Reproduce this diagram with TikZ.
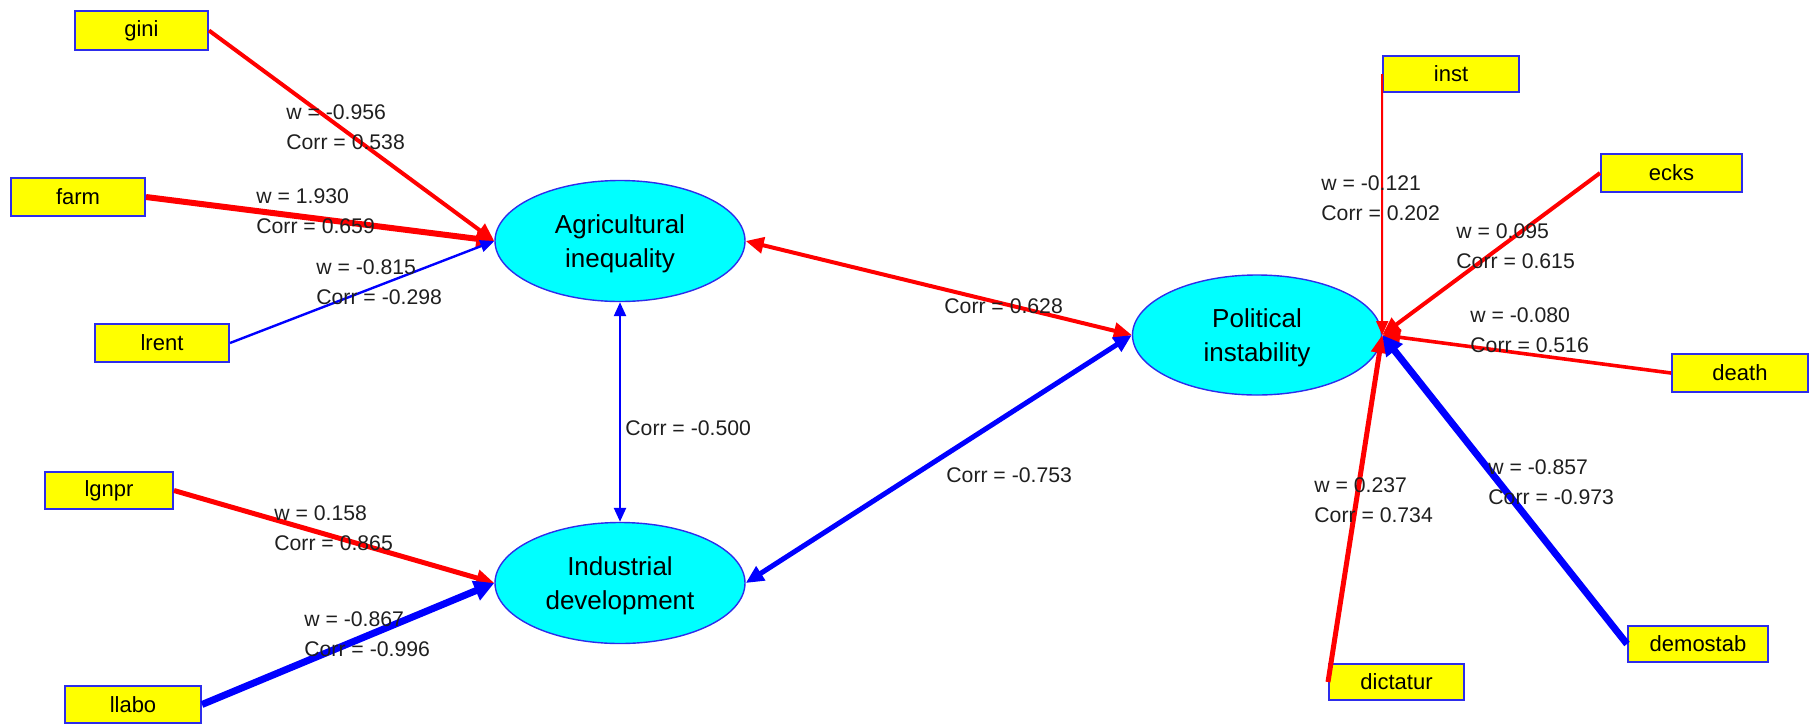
\documentclass[tikz,border=0pt]{standalone}
\usepackage{fontspec}
\setmainfont{Liberation Sans}
\usetikzlibrary{arrows.meta,shapes.geometric}
\definecolor{posred}{RGB}{255,0,0}
\definecolor{negblue}{RGB}{0,0,255}
\definecolor{mvyellow}{RGB}{255,255,0}
\definecolor{lvcyan}{RGB}{0,255,255}
\definecolor{rimblue}{RGB}{45,45,235}
\begin{document}
\begin{tikzpicture}[x=0.5pt,y=-0.5pt,
  indicator/.style={draw=rimblue, line width=1pt, fill=mvyellow, minimum width=67pt,
    minimum height=19pt, inner sep=0pt, font=\fontsize{11}{13}\selectfont},
  latent/.style={ellipse, draw=rimblue, line width=0.7pt, fill=lvcyan, minimum width=125pt,
    minimum height=60.5pt, inner sep=0pt, align=center, text depth=0pt,
    font=\fontsize{13}{17}\selectfont},
  wlabel/.style={anchor=west, align=left, inner sep=0pt, text=black!88,
    font=\fontsize{10.6}{15}\selectfont},
  tolatent/.style={-{Triangle[length=9pt,width=8pt]}},
  bidir/.style={{Triangle[length=9pt,width=8pt]}-{Triangle[length=9pt,width=8pt]}},
  poslink/.style={draw=posred},
  neglink/.style={draw=negblue},
]
\useasboundingbox (0,0) rectangle (1820,724);

% latent variables
\node[latent] (agri) at (620,241) {Agricultural\\inequality};
\node[latent] (ind)  at (620,583) {Industrial\\development};
\node[latent, minimum width=124.5pt, minimum height=60pt] (pol) at (1257,335) {Political\\instability};

% manifest indicators
\node[indicator, minimum width=66.5pt, minimum height=19.5pt] (gini) at (141.5,30.5) {gini};
\node[indicator] (farm)  at (78,197) {farm};
\node[indicator] (lrent) at (162,343) {lrent};
\node[indicator, minimum width=64pt, minimum height=18.5pt] (lgnpr) at (109,490.5) {lgnpr};
\node[indicator, minimum width=68pt, minimum height=18.5pt] (llabo) at (133,704.5) {llabo};
\node[indicator, minimum width=68pt, minimum height=18pt] (inst) at (1451,74) {inst};
\node[indicator, minimum width=70.5pt] (ecks) at (1671.5,173) {ecks};
\node[indicator, minimum width=68pt] (death) at (1740,373) {death};
\node[indicator, minimum width=70pt, minimum height=18pt] (demostab) at (1698,644) {demostab};
\node[indicator, minimum width=67.5pt, minimum height=18pt] (dictatur) at (1396.5,682) {dictatur};

% outer weights
\draw[tolatent, poslink, line width=2pt] (gini.east) -- (agri.west);
\draw[tolatent, poslink, line width=3pt] (farm.east) -- (agri.west);
\draw[-{Triangle[length=7pt,width=6pt]}, neglink, line width=1.2pt] (lrent.east) -- (agri.west);
\draw[tolatent, poslink, line width=2.5pt] (lgnpr.east) -- (ind.west);
\draw[-{Triangle[length=10pt,width=10pt]}, neglink, line width=3.5pt] (llabo.east) -- (ind.west);
\draw[-{Triangle[length=7pt,width=6pt]}, poslink, line width=1pt] (inst.west) -- (pol.east);
\draw[tolatent, poslink, line width=2pt] (ecks.west) -- (pol.east);
\draw[tolatent, poslink, line width=1.8pt] (death.west) -- (pol.east);
\draw[tolatent, poslink, line width=2.5pt] (dictatur.west) -- (pol.east);
\draw[-{Triangle[length=10pt,width=10pt]}, neglink, line width=3.5pt] (demostab.west) -- (pol.east);

% correlations between latent variables
\draw[bidir, poslink, line width=2pt] (agri.east) -- (pol.west);
\draw[{Triangle[length=7pt,width=6pt]}-{Triangle[length=7pt,width=6pt]}, neglink, line width=1.2pt] (agri.south) -- (ind.north);
\draw[bidir, neglink, line width=2.5pt] (ind.east) -- (pol.west);

% path labels
\node[wlabel] (lgini)  at (286,127)   {w = -0.956\\Corr = 0.538};
\node[wlabel] (lfarm)  at (256,211)   {w = 1.930\\Corr = 0.659};
\node[wlabel] (llrent) at (316,282)   {w = -0.815\\Corr = -0.298};
\node[wlabel] (llgnpr) at (274,528)   {w = 0.158\\Corr = 0.865};
\node[wlabel] (lllabo) at (304,634.5) {w = -0.867\\Corr = -0.996};
\node[wlabel] (linst)  at (1321,198.5) {w = -0.121\\Corr = 0.202};
\node[wlabel] (lecks)  at (1456,246.5) {w = 0.095\\Corr = 0.615};
\node[wlabel] (ldeath) at (1470,330)  {w = -0.080\\Corr = 0.516};
\node[wlabel] (ldict)  at (1314,500)  {w = 0.237\\Corr = 0.734};
\node[wlabel] (ldemo)  at (1488,482)  {w = -0.857\\Corr = -0.973};
\node[wlabel] (lap) at (944,306) {Corr = 0.628};
\node[wlabel] (lai) at (625,428) {Corr = -0.500};
\node[wlabel] (lip) at (946,475) {Corr = -0.753};
\end{tikzpicture}
\end{document}
